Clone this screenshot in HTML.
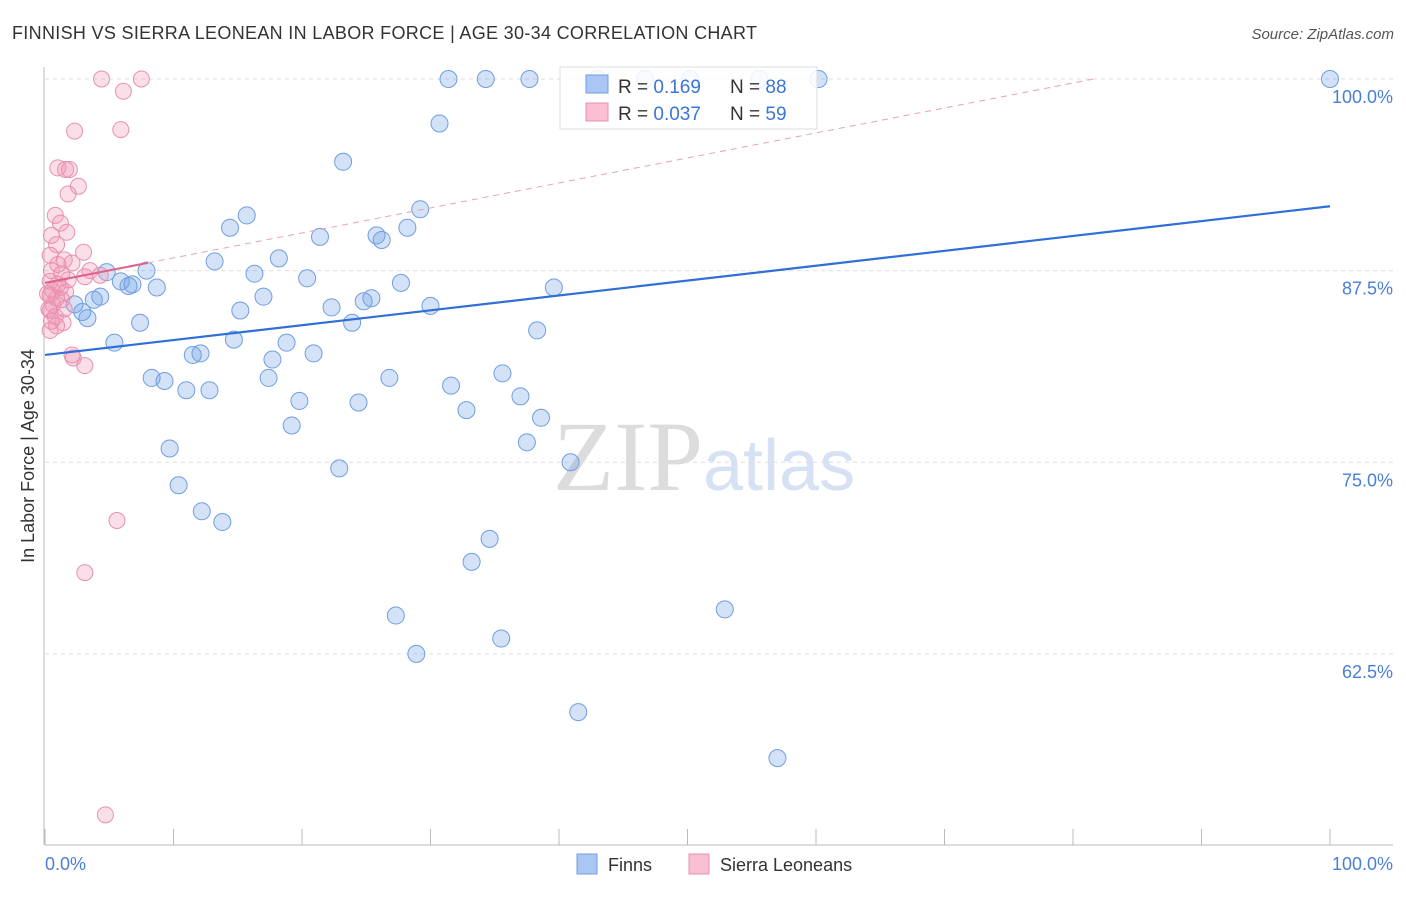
<!DOCTYPE html>
<html><head><meta charset="utf-8"><style>
body{margin:0;background:#fff;font-family:"Liberation Sans",sans-serif}
svg text{font-family:"Liberation Sans",sans-serif}
</style></head><body>
<svg id="c" width="1406" height="892">
<text x="12" y="39" font-size="18" fill="#333" textLength="745">FINNISH VS SIERRA LEONEAN IN LABOR FORCE | AGE 30-34 CORRELATION CHART</text>
<text x="1394" y="39" font-size="15" fill="#555" font-style="italic" text-anchor="end">Source: ZipAtlas.com</text>
<text x="553" y="490" font-size="100" fill="#dcdcdc" font-family="Liberation Serif"><tspan fill="#dcdcdc" font-family="Liberation Serif">ZIP</tspan><tspan fill="#d6e2f3" font-family="Liberation Sans" font-size="72">atlas</tspan></text>
<g id="grid"></g>
<g id="marks"></g>
<text transform="translate(34,456) rotate(-90)" font-size="18" fill="#333" text-anchor="middle">In Labor Force | Age 30-34</text>
<text x="45" y="870" font-size="18" fill="#4a7fd6">0.0%</text>
<text x="1393" y="870" font-size="18" fill="#4a7fd6" text-anchor="end">100.0%</text>
<g>
<rect x="560" y="67" width="257" height="62" fill="#fff" fill-opacity="0.85" stroke="#ddd"/>
<rect x="586" y="75" width="22" height="18" fill="#aac7f3" stroke="#6f9ee0"/>
<rect x="586" y="103" width="22" height="18" fill="#f8c0d2" stroke="#e890b0"/>
<text x="618" y="93" font-size="19" fill="#333">R = <tspan fill="#3a75d6">0.169</tspan></text>
<text x="730" y="93" font-size="19" fill="#333">N = <tspan fill="#3a75d6">88</tspan></text>
<text x="618" y="120" font-size="19" fill="#333">R = <tspan fill="#3a75d6">0.037</tspan></text>
<text x="730" y="120" font-size="19" fill="#333">N = <tspan fill="#3a75d6">59</tspan></text>
</g>
<g>
<rect x="577" y="854" width="20" height="20" fill="#aac7f3" stroke="#6f9ee0"/>
<text x="608" y="871" font-size="18" fill="#333">Finns</text>
<rect x="689" y="854" width="20" height="20" fill="#f8c0d2" stroke="#e890b0"/>
<text x="720" y="871" font-size="18" fill="#333">Sierra Leoneans</text>
</g>
</svg>
<script>
const yTicks=[100,87.5,75,62.5];
const yTickLabels=["100.0%","87.5%","75.0%","62.5%"];
const xTicks=[0,10,20,30,40,50,60,70,80,90,100];
const finnX=[31.4,34.3,37.7,43.0,46.7,50.2,55.6,60.2,100,30.7,23.2,29.2,15.7,14.4,21.4,25.8,26.2,28.2,13.2,18.2,16.3,20.4,7.9,4.8,5.9,6.5,6.8,8.7,27.7,39.6,17.0,4.3,3.8,2.3,2.9,3.3,15.2,22.3,24.8,25.4,30.0,23.9,7.4,38.3,14.7,18.8,5.4,11.5,12.1,17.7,20.9,8.3,9.3,11.0,12.8,17.4,26.8,31.6,35.6,19.8,24.4,37.0,32.8,38.6,19.2,37.5,9.7,22.9,40.9,10.4,12.2,13.8,34.6,33.2,52.9,27.3,35.5,28.9,41.5,57.0];
const finnY=[100,100,100,100,100,100,100,100,100,97.1,94.6,91.5,91.1,90.3,89.7,89.8,89.5,90.3,88.1,88.3,87.3,87.0,87.5,87.4,86.8,86.5,86.6,86.4,86.7,86.4,85.8,85.8,85.6,85.3,84.8,84.4,84.9,85.1,85.5,85.7,85.2,84.1,84.1,83.6,83.0,82.8,82.8,82.0,82.1,81.7,82.1,80.5,80.3,79.7,79.7,80.5,80.5,80.0,80.8,79.0,78.9,79.3,78.4,77.9,77.4,76.3,75.9,74.6,75.0,73.5,71.8,71.1,70.0,68.5,65.4,65.0,63.5,62.5,58.7,55.7];
const sierraX=[4.4,7.5,6.1,2.3,5.9,1.0,1.9,1.6,2.6,1.8,0.8,1.2,1.7,0.5,0.9,3.0,0.4,1.5,2.1,0.5,1.3,3.5,4.3,3.1,0.4,1.0,1.2,0.6,1.6,0.4,0.9,1.3,0.6,0.4,0.8,1.4,0.9,0.4,2.1,3.1,2.2,5.6,3.1,4.7,0.2,0.3,1.8,1.0,0.5,1.5];
const sierraY=[100,100,99.2,96.6,96.7,94.2,94.1,94.1,93.0,92.5,91.1,90.6,90.0,89.8,89.2,88.7,88.5,88.2,88.0,87.5,87.3,87.5,87.2,87.1,86.8,86.6,86.4,86.2,86.1,85.9,85.7,85.6,85.3,84.9,84.5,84.1,83.9,83.6,82.0,81.3,81.8,71.2,67.8,52.0,86.0,85.0,86.9,87.9,84.2,85.0];
const finnTrend=[82.0,91.7];
const sierraTrend=[86.7,0.163];
const X0=45,X1=1330,Y100=79,PXPER=15.33;
const sx=v=>X0+(X1-X0)*v/100;
const sy=v=>Y100+(100-v)*PXPER;
const NS="http://www.w3.org/2000/svg";
function mk(t,a,p){const e=document.createElementNS(NS,t);for(const k in a)e.setAttribute(k,a[k]);p.appendChild(e);return e;}
const g=document.getElementById('grid'),m=document.getElementById('marks');
yTicks.forEach((t,i)=>{
 const l=mk('line',{x1:45,x2:1393,y1:sy(t),y2:sy(t),stroke:'#ddd','stroke-dasharray':'4,4'},g);
 
 
 const tx=mk('text',{x:1393,y:sy(t)+24,'font-size':18,fill:'#4a7fd6','text-anchor':'end'},g);
 tx.textContent=yTickLabels[i];
 
 
});
const ax=mk('line',{x1:45,x2:1393,y1:845,y2:845,stroke:'#bbb'},g);


const ay=mk('line',{x1:44,x2:44,y1:67,y2:845,stroke:'#bbb'},g);


xTicks.forEach(t=>{
 const l=mk('line',{x1:sx(t),x2:sx(t),y1:829,y2:845,stroke:'#bbb'},g);
 
 
});
finnX.forEach((x,i)=>{
 const c=mk('circle',{cx:sx(x),cy:sy(finnY[i]),r:8.5,fill:'rgba(110,158,228,0.3)',stroke:'#6f9ee0','stroke-width':1},m);
 
 
});
sierraX.forEach((x,i)=>{
 const c=mk('circle',{cx:sx(x),cy:sy(sierraY[i]),r:8,fill:'rgba(240,150,180,0.3)',stroke:'#e890b0','stroke-width':1},m);
 
 
});
const bt=mk('line',{x1:sx(0),y1:sy(finnTrend[0]),x2:sx(100),y2:sy(finnTrend[1]),stroke:'#2f6fd6','stroke-width':2.2},m);


const xEnd=(100-sierraTrend[0])/sierraTrend[1];
const pd=mk('line',{x1:sx(8),y1:sy(sierraTrend[0]+8*sierraTrend[1]),x2:sx(xEnd),y2:sy(100),stroke:'#e8a0b8','stroke-width':1,'stroke-dasharray':'6,5'},m);


const ps=mk('line',{x1:sx(0),y1:sy(sierraTrend[0]),x2:sx(8),y2:sy(sierraTrend[0]+8*sierraTrend[1]),stroke:'#e0608a','stroke-width':2},m);


</script>
</body></html>
